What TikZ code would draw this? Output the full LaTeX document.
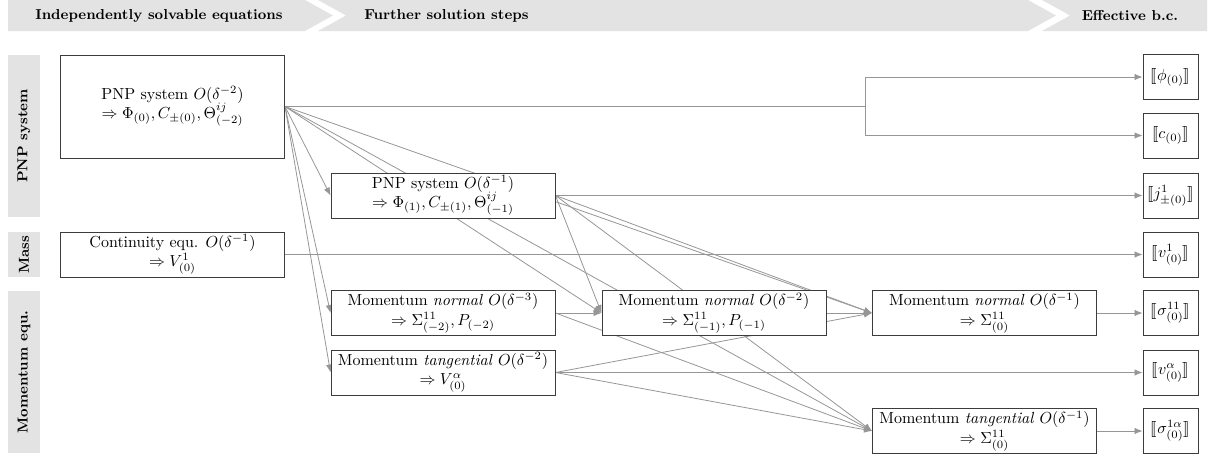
\documentclass[tikz,border=0pt]{standalone}
\usepackage{stmaryrd}
\usetikzlibrary{arrows.meta,backgrounds}
\definecolor{hdr}{RGB}{227,227,227}
\definecolor{ln}{RGB}{150,150,150}
\definecolor{bx}{RGB}{60,60,60}
\begin{document}
\begin{tikzpicture}[x=0.625pt,y=-0.625pt,
  wbox/.style={draw=bx,fill=white,line width=0.6pt,minimum width=224*0.625pt,minimum height=45*0.625pt,inner sep=0pt,align=center},
  bigbox/.style={wbox,minimum height=103*0.625pt},
  sbox/.style={draw=bx,fill=white,line width=0.6pt,minimum width=55*0.625pt,minimum height=45*0.625pt,inner sep=0pt,align=center},
  conn/.style={draw=ln,line width=0.5pt,-{Latex[length=5pt,width=4pt]}},
  plain/.style={draw=ln,line width=0.5pt},
  hdrshape/.style={fill=hdr,draw=none},
  hdrtext/.style={font=\bfseries\small,inner sep=0pt},
  sidetext/.style={font=\bfseries\small,rotate=90,inner sep=0pt}]
\useasboundingbox (0,0) rectangle (1219,457);
% header chevrons
\fill[hdr] (8,0) -- (305,0) -- (333,15.5) -- (305,31) -- (8,31) -- cycle;
\fill[hdr] (318,0) -- (1028,0) -- (1056,15.5) -- (1028,31) -- (318,31) -- (346,15.5) -- cycle;
\fill[hdr] (1042,0) -- (1207,0) -- (1207,31) -- (1042,31) -- (1070,15.5) -- cycle;
\node[hdrtext] (h1) at (159,15.5) {Independently solvable equations};
\node[hdrtext,anchor=west] (h2) at (364,15.5) {Further solution steps};
\node[hdrtext] (h3) at (1130,15.5) {Effective b.c.};
% side bars
\fill[hdr] (8,55) rectangle (40,217);
\fill[hdr] (8,232) rectangle (40,277);
\fill[hdr] (8,291) rectangle (40,453);
\node[sidetext] (s1) at (24,136) {PNP system};
\node[sidetext] (s2) at (24,254.5) {Mass};
\node[sidetext] (s3) at (24,372) {Momentum equ.};
% nodes
\node[bigbox] (N1) at (172.5,106.5) {PNP system $O(\delta^{-2})$\\ $\Rightarrow \Phi_{(0)}, C_{\pm(0)}, \Theta^{ij}_{(-2)}$};
\node[wbox] (CO) at (172.5,254.5) {Continuity equ. $O(\delta^{-1})$\\ $\Rightarrow V^1_{(0)}$};
\node[wbox] (P1) at (443,195.5) {PNP system $O(\delta^{-1})$\\ $\Rightarrow \Phi_{(1)}, C_{\pm(1)}, \Theta^{ij}_{(-1)}$};
\node[wbox] (MN1) at (443,313) {Momentum \textit{normal} $O(\delta^{-3})$\\ $\Rightarrow \Sigma^{11}_{(-2)}, P_{(-2)}$};
\node[wbox] (MT1) at (443,372.5) {Momentum \textit{tangential} $O(\delta^{-2})$\\ $\Rightarrow V^{\alpha}_{(0)}$};
\node[wbox] (MN2) at (714,313) {Momentum \textit{normal} $O(\delta^{-2})$\\ $\Rightarrow \Sigma^{11}_{(-1)}, P_{(-1)}$};
\node[wbox] (MN3) at (984.5,313) {Momentum \textit{normal} $O(\delta^{-1})$\\ $\Rightarrow \Sigma^{11}_{(0)}$};
\node[wbox] (MT3) at (984.5,431) {Momentum \textit{tangential} $O(\delta^{-1})$\\ $\Rightarrow \Sigma^{11}_{(0)}$};
\node[sbox] (R1) at (1170.5,77) {$\llbracket \phi_{(0)}\rrbracket$};
\node[sbox] (R2) at (1170.5,135.5) {$\llbracket c_{(0)}\rrbracket$};
\node[sbox] (R3) at (1170.5,195.5) {$\llbracket j^1_{\pm(0)}\rrbracket$};
\node[sbox] (R4) at (1170.5,254.5) {$\llbracket v^1_{(0)}\rrbracket$};
\node[sbox] (R5) at (1170.5,313) {$\llbracket \sigma^{11}_{(0)}\rrbracket$};
\node[sbox] (R6) at (1170.5,372.5) {$\llbracket v^{\alpha}_{(0)}\rrbracket$};
\node[sbox] (R7) at (1170.5,431) {$\llbracket \sigma^{1\alpha}_{(0)}\rrbracket$};
\coordinate (split) at (865,106.5);
\begin{scope}[on background layer]
\draw[plain] (N1.east) -- (split);
\draw[conn] (split) |- (R1.west);
\draw[conn] (split) |- (R2.west);
\draw[conn] (N1.east) -- (P1.west);
\draw[conn] (N1.east) -- (MN1.west);
\draw[conn] (N1.east) -- (MT1.west);
\draw[conn] (N1.east) -- (MN2.west);
\draw[conn] (N1.east) -- (MN3.west);
\draw[conn] (N1.east) -- (MT3.west);
\draw[conn] (CO.east) -- (R4.west);
\draw[conn] (P1.east) -- (R3.west);
\draw[conn] (P1.east) -- (MN2.west);
\draw[conn] (P1.east) -- (MN3.west);
\draw[conn] (P1.east) -- (MT3.west);
\draw[conn] (MN1.east) -- (MN2.west);
\draw[conn] (MN1.east) -- (MT3.west);
\draw[conn] (MT1.east) -- (R6.west);
\draw[conn] (MT1.east) -- (MN3.west);
\draw[conn] (MT1.east) -- (MT3.west);
\draw[conn] (MN2.east) -- (MN3.west);
\draw[conn] (MN3.east) -- (R5.west);
\draw[conn] (MT3.east) -- (R7.west);
\end{scope}
\end{tikzpicture}
\end{document}
